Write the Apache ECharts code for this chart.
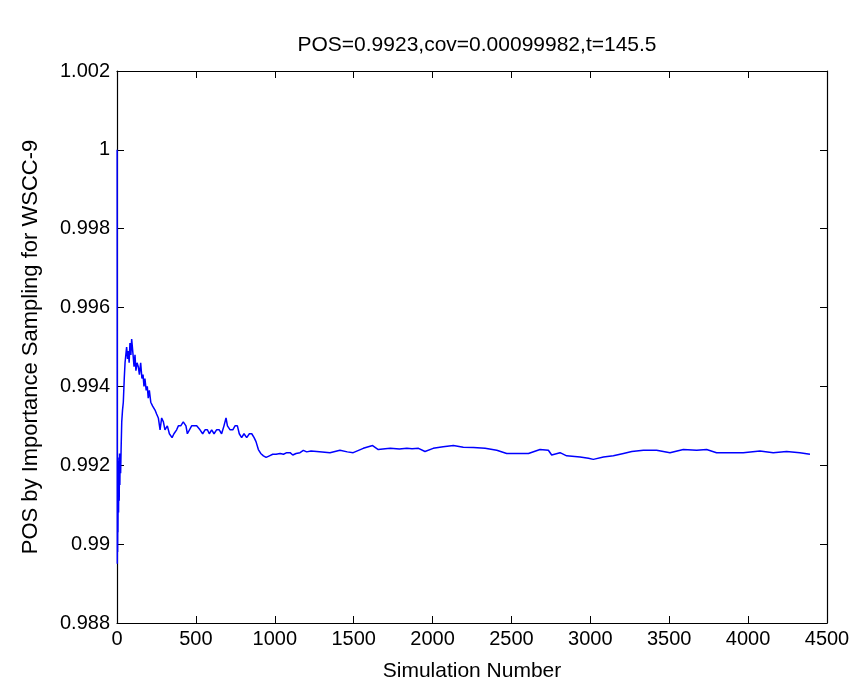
<!DOCTYPE html>
<html>
<head>
<meta charset="utf-8">
<title>POS by Importance Sampling</title>
<script src="https://cdn.jsdelivr.net/npm/echarts@6/dist/echarts.min.js"></script>
<style>
    html, body { margin: 0; padding: 0; background: #fff; }
    #chart { width: 854px; height: 687px; }
</style>
</head>
<body>
<div id="chart"></div>
<script>
    // simulation number
    var simNo = [1, 2, 3, 4, 5, 6, 8, 10, 12, 14, 16, 18, 20, 23, 26, 30, 35, 40, 46, 51, 56, 61, 67, 72, 77, 82, 88, 93, 100,
        104, 108, 114, 120, 127, 135, 142, 150, 158, 165, 171, 177, 185, 192, 198, 205, 214, 226, 241, 251, 262, 273, 283, 294,
        304, 319, 332, 349, 361, 378, 389, 404, 420, 437, 446, 458, 473, 488, 505, 515, 526, 543, 558, 573, 585, 600, 615,
        631, 648, 663, 678, 691, 700, 717, 734, 748, 763, 775, 790, 805, 822, 839, 854, 869, 881, 896, 911, 928, 945, 966,
        987, 1008, 1034, 1055, 1076, 1097, 1114, 1135, 1160, 1181, 1202, 1230, 1266, 1300, 1350, 1413, 1460, 1497, 1561,
        1620, 1656, 1700, 1732, 1790, 1837, 1870, 1911, 1952, 2004, 2067, 2132, 2195, 2259, 2333, 2407, 2470, 2534, 2608,
        2681, 2734, 2755, 2808, 2850, 2935, 2988, 3019, 3083, 3146, 3210, 3263, 3336, 3420, 3505, 3589, 3674, 3737, 3800,
        3885, 3969, 4075, 4159, 4244, 4328, 4392];
    // running estimate of POS
    var posValue = [1.0, 0.9895, 0.9914, 0.9898, 0.9919, 0.9903, 0.9921, 0.9908, 0.9922, 0.9911, 0.9923, 0.9915, 0.9922, 0.9918, 0.9924, 0.9931, 0.9934, 0.9936, 0.9942, 0.9946, 0.9948, 0.9950, 0.9947, 0.9949, 0.9946, 0.9951, 0.9948, 0.9952, 0.9952,
        0.9947, 0.9945, 0.9948, 0.9944, 0.9946, 0.9945, 0.9943, 0.9946, 0.9942, 0.9943, 0.9940, 0.9942, 0.9939, 0.9940, 0.9937, 0.9939, 0.9936, 0.9935, 0.9934, 0.9933, 0.9932, 0.9929, 0.9932, 0.9931,
        0.9929, 0.9930, 0.9928, 0.9927, 0.9928, 0.9929, 0.9930, 0.9930, 0.9931, 0.9930, 0.9928, 0.9928, 0.9930, 0.9930, 0.9930, 0.9930, 0.9929, 0.9928, 0.9929, 0.9929, 0.9928, 0.9929, 0.9928,
        0.9929, 0.9929, 0.9928, 0.9930, 0.9932, 0.9930, 0.9929, 0.9929, 0.9930, 0.9930, 0.9928, 0.9927, 0.9928, 0.9927, 0.9928, 0.9928, 0.9927, 0.9926, 0.9924, 0.9923, 0.99224, 0.9922, 0.99224,
        0.99228, 0.99228, 0.9923, 0.99228, 0.99232, 0.99232, 0.99226, 0.9923, 0.99232, 0.99238, 0.99234, 0.99236, 0.99235, 0.99234, 0.99232, 0.99238, 0.99234, 0.99232, 0.99243,
        0.9925, 0.9924, 0.99242, 0.99243, 0.99241, 0.99243, 0.99242, 0.99243, 0.99235, 0.99243, 0.99247, 0.9925, 0.99246, 0.99245, 0.99243, 0.99238, 0.9923, 0.9923, 0.9923,
        0.9924, 0.99238, 0.99226, 0.99232, 0.99224, 0.99221, 0.99218, 0.99215, 0.99221, 0.99224, 0.9923, 0.99235, 0.99238, 0.99238, 0.99232, 0.9924, 0.99238, 0.9924, 0.99232,
        0.99232, 0.99232, 0.99236, 0.99232, 0.99235, 0.99232, 0.99228];
    var xTicks = [0, 4500, 500];
    var yTicks = [0.988, 1.002, 0.002];

    var points = [];
    for (var i = 0; i < simNo.length; i++) {
        points.push([simNo[i], posValue[i]]);
    }

    var font = 'Liberation Sans, Arial, sans-serif';
    var inTick = { show: true, inside: true, length: 7, lineStyle: { color: '#000', width: 1 } };
    var blackLine = { show: true, onZero: false, lineStyle: { color: '#000', width: 1.2 } };

    function xLabel(v) {
        return String(v);
    }
    function yLabel(v) {
        return String(parseFloat(v.toFixed(3)));
    }

    var chart = echarts.init(document.getElementById('chart'), null, { renderer: 'canvas' });
    var option = {
        backgroundColor: '#fff',
        animation: false,
        title: {
            text: 'POS=0.9923,cov=0.00099982,t=145.5',
            left: 472,
            top: 30,
            textAlign: 'center',
            textStyle: { fontFamily: font, fontSize: 21, fontWeight: 'normal', color: '#000' }
        },
        grid: { left: 117, right: 27, top: 71, bottom: 60 },
        xAxis: [
            {
                type: 'value', min: xTicks[0], max: xTicks[1], interval: xTicks[2],
                name: 'Simulation Number', nameLocation: 'middle', nameGap: 38,
                nameTextStyle: { fontFamily: font, fontSize: 21, color: '#000' },
                axisLine: blackLine, axisTick: inTick, splitLine: { show: false },
                axisLabel: { fontFamily: font, fontSize: 20, color: '#000', margin: 6, formatter: xLabel }
            },
            {
                type: 'value', position: 'top', min: xTicks[0], max: xTicks[1], interval: xTicks[2],
                axisLine: blackLine, axisTick: inTick, splitLine: { show: false }, axisLabel: { show: false }
            }
        ],
        yAxis: [
            {
                type: 'value', min: yTicks[0], max: yTicks[1], interval: yTicks[2],
                name: 'POS by Importance Sampling for WSCC-9', nameLocation: 'middle', nameGap: 75,
                nameTextStyle: { fontFamily: font, fontSize: 22, color: '#000' },
                axisLine: blackLine, axisTick: inTick, splitLine: { show: false },
                axisLabel: { fontFamily: font, fontSize: 20, color: '#000', margin: 7, formatter: yLabel }
            },
            {
                type: 'value', position: 'right', min: yTicks[0], max: yTicks[1], interval: yTicks[2],
                axisLine: blackLine, axisTick: inTick, splitLine: { show: false }, axisLabel: { show: false }
            }
        ],
        series: [
            {
                type: 'line',
                data: points,
                showSymbol: false,
                lineStyle: { color: '#0000ff', width: 1.5 },
                itemStyle: { color: '#0000ff' }
            }
        ]
    };
    chart.setOption(option);
</script>
</body>
</html>
